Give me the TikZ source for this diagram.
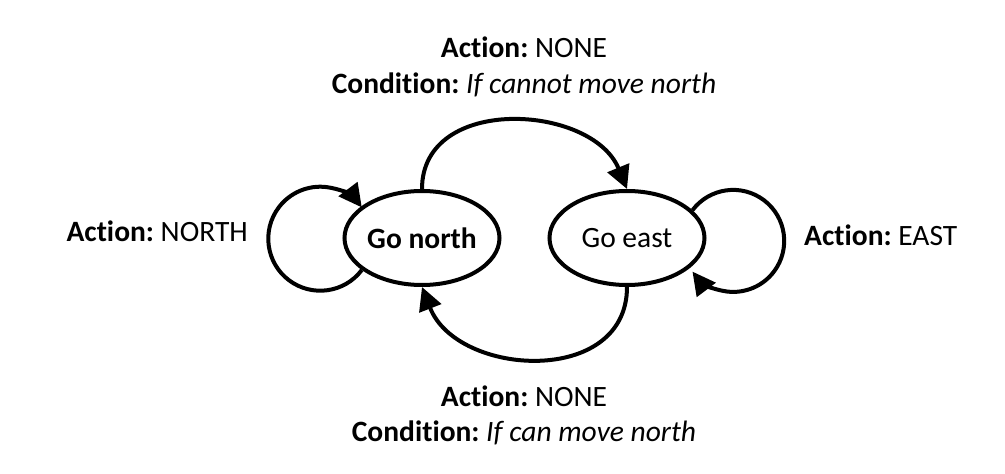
\documentclass[tikz,border=0pt]{standalone}
\usepackage{fontspec}
\setmainfont{Carlito}[Ligatures=NoCommon]
\usetikzlibrary{shapes.geometric,arrows.meta}
\frenchspacing
\begin{document}
\begin{tikzpicture}[x=1pt,y=1pt,
  state/.style={ellipse,draw,line width=4pt,inner sep=0pt,minimum width=155pt,minimum height=94pt,font=\fontsize{29.5}{35}\selectfont},
  lbl/.style={inner sep=0pt,font=\fontsize{29.5}{35}\selectfont},
  edge/.style={line width=4pt,-{Triangle[length=23pt,width=23pt]}}]
\useasboundingbox (0,0) rectangle (1005,474);
\node[state] (gn) at (422,236) {\textbf{Go north}};
\node[state] (ge) at (627,236) {Go east};
\draw[edge] (gn.north) .. controls +(0,95) and +(-35,85) .. (ge.north);
\draw[edge] (ge.south) .. controls +(0,-100) and +(35,-90) .. (gn.south);
\draw[edge] (gn.208) arc[start angle=-37,end angle=-323,radius=52];
\draw[edge] (ge.23) arc[start angle=143,end angle=-143,radius=51];
\node[lbl,anchor=base] (t1) at (524,416) {\textbf{Action:} NONE};
\node[lbl,anchor=base] (t2) at (524,380) {\textbf{Condition:} \textit{If cannot move north}};
\node[lbl,anchor=base] (b1) at (524,67) {\textbf{Action:} NONE};
\node[lbl,anchor=base] (b2) at (524,32) {\textbf{Condition:} \textit{If can move north}};
\node[lbl,anchor=base east] (l1) at (248,232) {\textbf{Action:} NORTH};
\node[lbl,anchor=base west] (r1) at (804,228) {\textbf{Action:} EAST};
\end{tikzpicture}
\end{document}
